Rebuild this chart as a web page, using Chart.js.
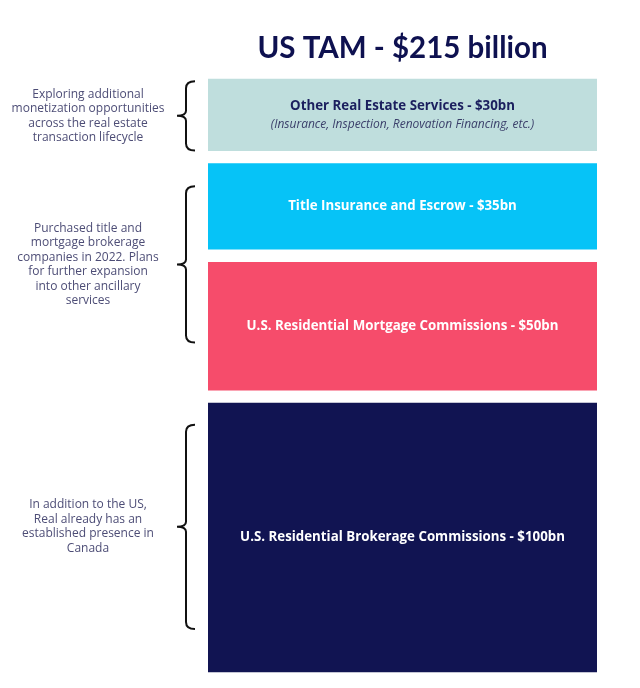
<!DOCTYPE html>
<html>
<head>
<meta charset="utf-8">
<script src="https://cdn.jsdelivr.net/npm/chart.js@4/dist/chart.umd.min.js"></script>
<style>
  html, body { margin: 0; padding: 0; background: #ffffff; }
  canvas { display: block; }
</style>
</head>
<body>
<canvas id="c" width="640" height="688"></canvas>
<script>
// ---- data (bottom of the stack first) ----
const segmentNames = [
  "U.S. Residential Brokerage Commissions",
  "U.S. Residential Mortgage Commissions",
  "Title Insurance and Escrow",
  "Other Real Estate Services"
];
const segmentValues = [100, 50, 35, 30];           // $bn
const segmentSubtitles = ["", "", "", "(Insurance, Inspection, Renovation Financing, etc.)"];
const segmentColors = ["#111452", "#f64c6b", "#06c3f7", "#bfdedd"];
const segmentTextColors = ["#ffffff", "#ffffff", "#ffffff", "#1b1f5e"];
const chartTitle = "US TAM - $215 billion";

// left-side notes: which segments (indices) each bracket groups
const noteGroups = [[3], [1, 2], [0]];
const noteTexts = [
  ["Exploring additional", "monetization opportunities", "across the real estate", "transaction lifecycle"],
  ["Purchased title and", "mortgage brokerage", "companies in 2022. Plans", "for further expansion", "into other ancillary", "services"],
  ["In addition to the US,", "Real already has an", "established presence in", "Canada"]
];
const noteInsets = [[0.03, 0.0], [0.10, 0.21], [0.08, 0.16]];

const total = segmentValues.reduce((a, b) => a + b, 0);

const labelPlugin = {
  id: 'segLabels',
  afterDatasetsDraw(chart) {
    const ctx = chart.ctx;
    ctx.save();
    ctx.textAlign = 'center';
    ctx.textBaseline = 'middle';
    chart.data.datasets.forEach((ds, i) => {
      const bar = chart.getDatasetMeta(i).data[0];
      const cx = (chart.chartArea.left + chart.chartArea.right) / 2;
      const cy = (bar.y + bar.base) / 2;
      const txt = segmentNames[i] + " - $" + segmentValues[i] + "bn";
      ctx.fillStyle = segmentTextColors[i];
      if (segmentSubtitles[i]) {
        ctx.font = "bold 13.3px 'Open Sans'";
        ctx.fillText(txt, cx, cy - 9);
        ctx.font = "italic 12px 'Open Sans'";
        ctx.fillStyle = "#3a3f6a";
        ctx.fillText(segmentSubtitles[i], cx, cy + 10);
      } else {
        ctx.font = "bold 13.3px 'Open Sans'";
        ctx.fillText(txt, cx, cy);
      }
    });
    ctx.restore();
  }
};

const notePlugin = {
  id: 'notes',
  afterDraw(chart) {
    const ctx = chart.ctx;
    const gap = 6.5;
    ctx.save();
    noteGroups.forEach((grp, g) => {
      let top = Infinity, bottom = -Infinity;
      grp.forEach(i => {
        const bar = chart.getDatasetMeta(i).data[0];
        top = Math.min(top, bar.y + gap);
        bottom = Math.max(bottom, bar.base - gap);
      });
      const h = bottom - top;
      const bt = top + noteInsets[g][0] * h;
      const bb = bottom - noteInsets[g][1] * h;
      const mid = (bt + bb) / 2;
      const xr = 195, xv = 186, xt = 177;
      ctx.beginPath();
      ctx.moveTo(xr, bt);
      ctx.quadraticCurveTo(xv, bt, xv, bt + 7);
      ctx.lineTo(xv, mid - 5);
      ctx.quadraticCurveTo(xv, mid, xt, mid);
      ctx.quadraticCurveTo(xv, mid, xv, mid + 5);
      ctx.lineTo(xv, bb - 7);
      ctx.quadraticCurveTo(xv, bb, xr, bb);
      ctx.strokeStyle = "#111111";
      ctx.lineWidth = 2;
      ctx.stroke();

      const lines = noteTexts[g];
      const lh = 14.5;
      ctx.font = "12px 'Open Sans'";
      ctx.fillStyle = "#4d4d76";
      ctx.textAlign = 'center';
      ctx.textBaseline = 'middle';
      const y0 = mid - (lines.length - 1) * lh / 2;
      lines.forEach((ln, k) => ctx.fillText(ln, 88, y0 + k * lh));
    });
    ctx.restore();
  }
};

new Chart(document.getElementById('c'), {
  type: 'bar',
  data: {
    labels: ["US TAM"],
    datasets: segmentValues.map((v, i) => ({
      label: segmentNames[i],
      data: [v],
      backgroundColor: segmentColors[i],
      borderColor: "#ffffff",
      borderWidth: { top: 6.5, bottom: 6.5, left: 0, right: 0 },
      borderSkipped: false,
      barPercentage: 1,
      categoryPercentage: 1
    }))
  },
  options: {
    responsive: false,
    animation: false,
    layout: { padding: { left: 208, right: 43, top: 0, bottom: 9.5 } },
    scales: {
      x: { stacked: true, display: false },
      y: { stacked: true, display: false, min: 0, max: total }
    },
    plugins: {
      legend: { display: false },
      tooltip: { enabled: false },
      title: {
        display: true,
        text: chartTitle,
        color: "#0e1150",
        font: { family: "Lato", size: 29.5, weight: "bold", lineHeight: 1.2 },
        padding: { top: 30.8, bottom: 6.3 }
      }
    }
  },
  plugins: [labelPlugin, notePlugin]
});
</script>
</body>
</html>
